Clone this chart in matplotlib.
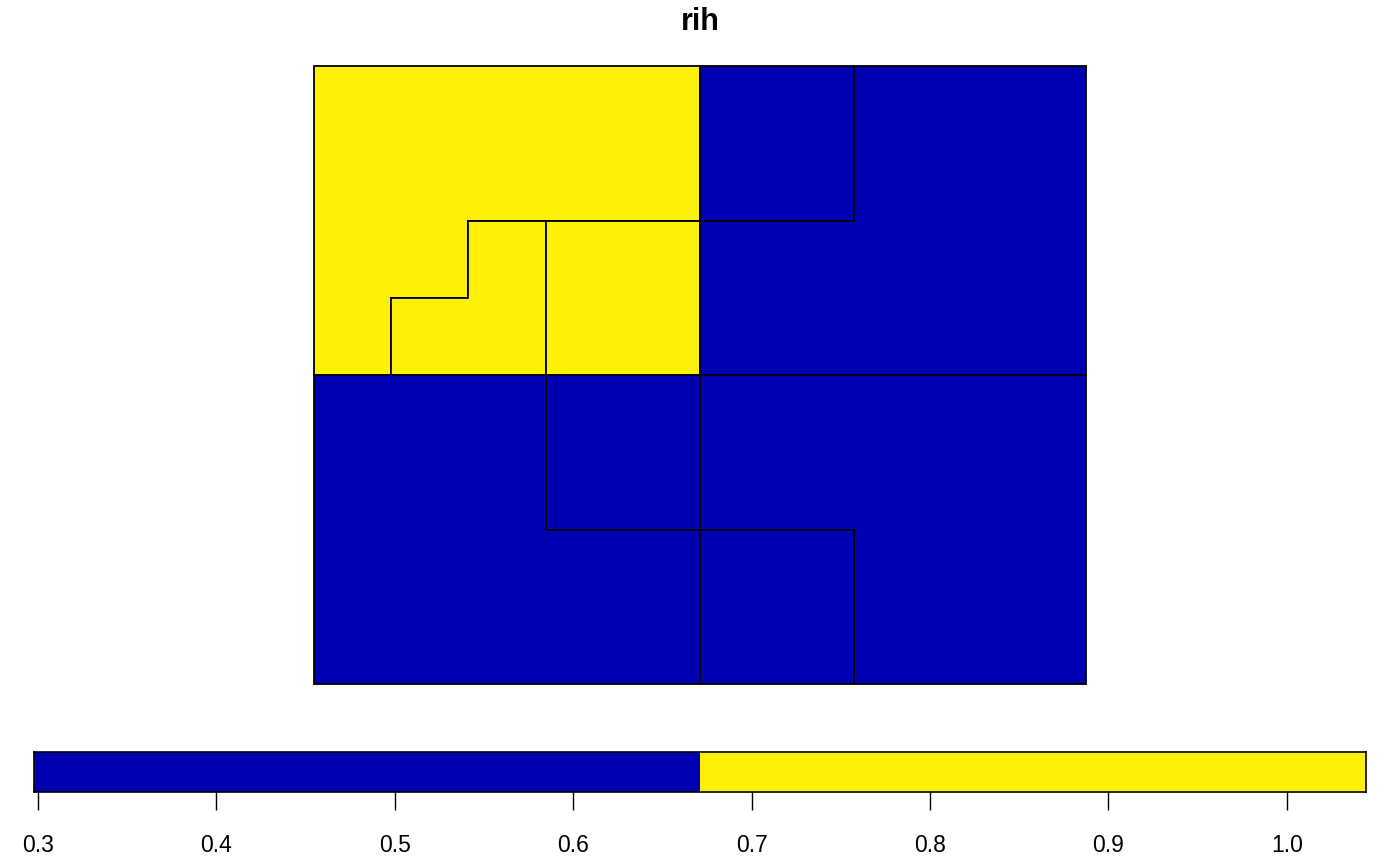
import numpy as np
import matplotlib
matplotlib.use("Agg")
import matplotlib.pyplot as plt
from matplotlib.patches import Polygon
from matplotlib.colors import ListedColormap, BoundaryNorm

plt.rcParams['font.family'] = ['Liberation Sans', 'DejaVu Sans']

# polygon outlines (grid units) and their rih values
shapes = [
    [(0, 8), (5, 8), (5, 6), (2, 6), (2, 5), (1, 5), (1, 4), (0, 4)],
    [(1, 4), (1, 5), (2, 5), (2, 6), (3, 6), (3, 4)],
    [(3, 4), (3, 6), (5, 6), (5, 4)],
    [(5, 6), (5, 8), (7, 8), (7, 6)],
    [(7, 8), (10, 8), (10, 4), (5, 4), (5, 6), (7, 6)],
    [(0, 4), (3, 4), (3, 2), (5, 2), (5, 0), (0, 0)],
    [(3, 2), (3, 4), (5, 4), (5, 2)],
    [(5, 4), (10, 4), (10, 0), (7, 0), (7, 2), (5, 2)],
    [(5, 0), (5, 2), (7, 2), (7, 0)],
]
rih = [1.0444, 0.90, 0.80, 0.45, 0.2978, 0.35, 0.50, 0.40, 0.60]

colors = ['#0000B3', '#FFF00A']
vmin, vmax = min(rih), max(rih)
breaks = np.linspace(vmin, vmax, len(colors) + 1)
cmap = ListedColormap(colors)
norm = BoundaryNorm(breaks, cmap.N)

fig = plt.figure(figsize=(14, 8.65), dpi=100)
W, H = 1400, 865

ax = fig.add_axes([314 / W, 1 - 684 / H, 772 / W, 618 / H])
for pts, v in zip(shapes, rih):
    ax.add_patch(Polygon(pts, closed=True, facecolor=cmap(norm(v)),
                         edgecolor='black', linewidth=1.3, clip_on=False))
ax.set_xlim(0, 10)
ax.set_ylim(0, 8)
ax.set_axis_off()
fig.text(0.5, 1 - 22 / H, 'rih', ha='center', va='center',
         fontsize=22, fontweight='bold')

# colour key
cax = fig.add_axes([34 / W, 1 - 792 / H, 1332 / W, 40 / H])
for i in range(len(colors)):
    cax.axvspan(breaks[i], breaks[i + 1], color=colors[i], lw=0)
cax.set_xlim(vmin, vmax)
cax.set_ylim(0, 1)
cax.set_yticks([])
ticks = np.arange(0.3, 1.01, 0.1)
cax.set_xticks(ticks)
cax.set_xticklabels([f'{t:.1f}' for t in ticks])
cax.tick_params(axis='x', length=13, width=1, labelsize=16.5, pad=17)
for s in cax.spines.values():
    s.set_linewidth(1.2)

fig.savefig('out.png', dpi=100)
